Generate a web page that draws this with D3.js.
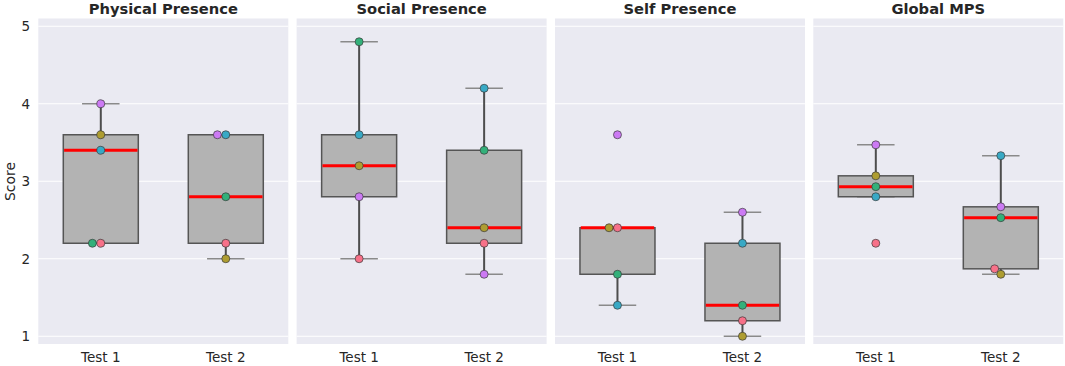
<!DOCTYPE html>
<html><head><meta charset="utf-8">
<script src="https://cdn.jsdelivr.net/npm/d3@7"></script>
<style>body{margin:0;background:#fff}svg{display:block}</style>
</head><body><svg id="c" width="1065" height="366"></svg>
<script>
// ---- data ----
const panelTitles = ["Physical Presence", "Social Presence", "Self Presence", "Global MPS"];
const tests = ["Test 1", "Test 2"];
const participants = ["P1", "P2", "P3", "P4", "P5"];
const palette = ["#f77189", "#ae9d31", "#33b07a", "#38a9c5", "#cc7af4"];
const yTicks = [1, 2, 3, 4, 5];
// values per participant (P1..P5)
const physicalT1 = [2.2, 3.6, 2.2, 3.4, 4.0];
const physicalT2 = [2.2, 2.0, 2.8, 3.6, 3.6];
const socialT1 = [2.0, 3.2, 4.8, 3.6, 2.8];
const socialT2 = [2.2, 2.4, 3.4, 4.2, 1.8];
const selfT1 = [2.4, 2.4, 1.8, 1.4, 3.6];
const selfT2 = [1.2, 1.0, 1.4, 2.2, 2.6];
const globalT1 = [2.2, 3.07, 2.93, 2.8, 3.47];
const globalT2 = [1.87, 1.8, 2.53, 3.33, 2.67];

const panelData = [
  [physicalT1, physicalT2],
  [socialT1, socialT2],
  [selfT1, selfT2],
  [globalT1, globalT2]
];

// ---- layout ----
const svg = d3.select("#c");
const plotTop = 18.5, plotBottom = 344;
const y = d3.scaleLinear().domain([0.9, 5.1]).range([plotBottom, plotTop]);
const px = d3.scaleBand().domain(panelTitles).range([38.3, 1063.3]).paddingInner(0.0323);
const W = px.bandwidth();
const bx = d3.scaleBand().domain(tests).range([0, W]);
const boxW = bx.bandwidth() * 0.6;
const R = 4;
const FONT = "DejaVu Sans, Verdana, sans-serif";

function swarm(vals, cx) {
  const idx = vals.map((v, i) => i).sort((a, b) => vals[a] - vals[b] || a - b);
  const placed = [];
  const out = new Array(vals.length);
  idx.forEach(i => {
    const yi = y(vals[i]);
    const neighbors = placed.filter(p => Math.abs(p.y - yi) < 2 * R);
    const cands = [cx];
    neighbors.slice().reverse().forEach(p => {
      const dy = yi - p.y;
      const dx = Math.sqrt(Math.max(4 * R * R - dy * dy, 0)) * 1.05;
      cands.push(p.x - dx, p.x + dx);
    });
    const sorted = cands.map((c, k) => ({c, k})).sort((a, b) => (Math.abs(a.c - cx) - Math.abs(b.c - cx)) || a.k - b.k);
    let xi = cx;
    for (const s of sorted) {
      if (neighbors.every(p => Math.hypot(p.x - s.c, p.y - yi) >= 2 * R * 0.999)) { xi = s.c; break; }
    }
    placed.push({x: xi, y: yi});
    out[i] = {x: xi, y: yi, v: vals[i], i};
  });
  return out;
}

panelTitles.forEach((title, pi) => {
  const g = svg.append("g").attr("transform", `translate(${px(title)},0)`);
  g.append("rect").attr("x", 0).attr("y", plotTop).attr("width", W).attr("height", plotBottom - plotTop).attr("fill", "#eaeaf2");
  g.selectAll("line.grid").data(yTicks).join("line").attr("class", "grid")
    .attr("x1", 0).attr("x2", W).attr("y1", d => y(d)).attr("y2", d => y(d))
    .attr("stroke", "#ffffff").attr("stroke-width", 1.1);
  g.append("text").attr("x", W / 2).attr("y", 13.5).attr("text-anchor", "middle")
    .attr("font-family", FONT).attr("font-weight", "bold").attr("font-size", 14.7).attr("fill", "#262626").text(title);

  tests.forEach((t, ti) => {
    const vals = panelData[pi][ti];
    const s = vals.slice().sort(d3.ascending);
    const q1 = d3.quantile(s, 0.25), med = d3.quantile(s, 0.5), q3 = d3.quantile(s, 0.75);
    const iqr = q3 - q1;
    const lo = d3.min(s.filter(v => v >= q1 - 1.5 * iqr));
    const hi = d3.max(s.filter(v => v <= q3 + 1.5 * iqr));
    const cx = bx(t) + bx.bandwidth() / 2;
    // whiskers
    g.append("line").attr("x1", cx).attr("x2", cx).attr("y1", y(q3)).attr("y2", y(hi)).attr("stroke", "#4d4d4d").attr("stroke-width", 2);
    g.append("line").attr("x1", cx).attr("x2", cx).attr("y1", y(q1)).attr("y2", y(lo)).attr("stroke", "#4d4d4d").attr("stroke-width", 2);
    // caps
    [lo, hi].forEach(v => {
      g.append("line").attr("x1", cx - boxW / 4).attr("x2", cx + boxW / 4).attr("y1", y(v)).attr("y2", y(v))
        .attr("stroke", "#8a8a8a").attr("stroke-width", 1.5);
    });
    // box
    g.append("rect").attr("x", cx - boxW / 2).attr("y", y(q3)).attr("width", boxW).attr("height", y(q1) - y(q3))
      .attr("fill", "#b3b3b3").attr("stroke", "#555555").attr("stroke-width", 1.5);
    // median
    g.append("line").attr("x1", cx - boxW / 2 + 0.8).attr("x2", cx + boxW / 2 - 0.8).attr("y1", y(med)).attr("y2", y(med))
      .attr("stroke", "#ff0000").attr("stroke-width", 3);
    // swarm points
    const pts = swarm(vals, cx);
    g.selectAll(null).data(pts).join("circle")
      .attr("cx", d => d.x).attr("cy", d => d.y).attr("r", R)
      .attr("fill", d => palette[d.i]).attr("stroke", "#3a3a3a").attr("stroke-width", 0.7);
    // x tick label
    g.append("text").attr("x", cx).attr("y", 361.5).attr("text-anchor", "middle")
      .attr("font-family", FONT).attr("font-size", 13.5).attr("fill", "#262626").text(t);
  });
});

// y axis labels
svg.selectAll("text.yt").data(yTicks).join("text").attr("class", "yt")
  .attr("x", 30).attr("y", d => y(d) + 4.9).attr("text-anchor", "end")
  .attr("font-family", FONT).attr("font-size", 13.5).attr("fill", "#262626").text(d => d);
svg.append("text").attr("transform", `translate(15,181.5) rotate(-90)`).attr("text-anchor", "middle")
  .attr("font-family", FONT).attr("font-size", 14).attr("fill", "#262626").text("Score");
</script>
</body></html>
